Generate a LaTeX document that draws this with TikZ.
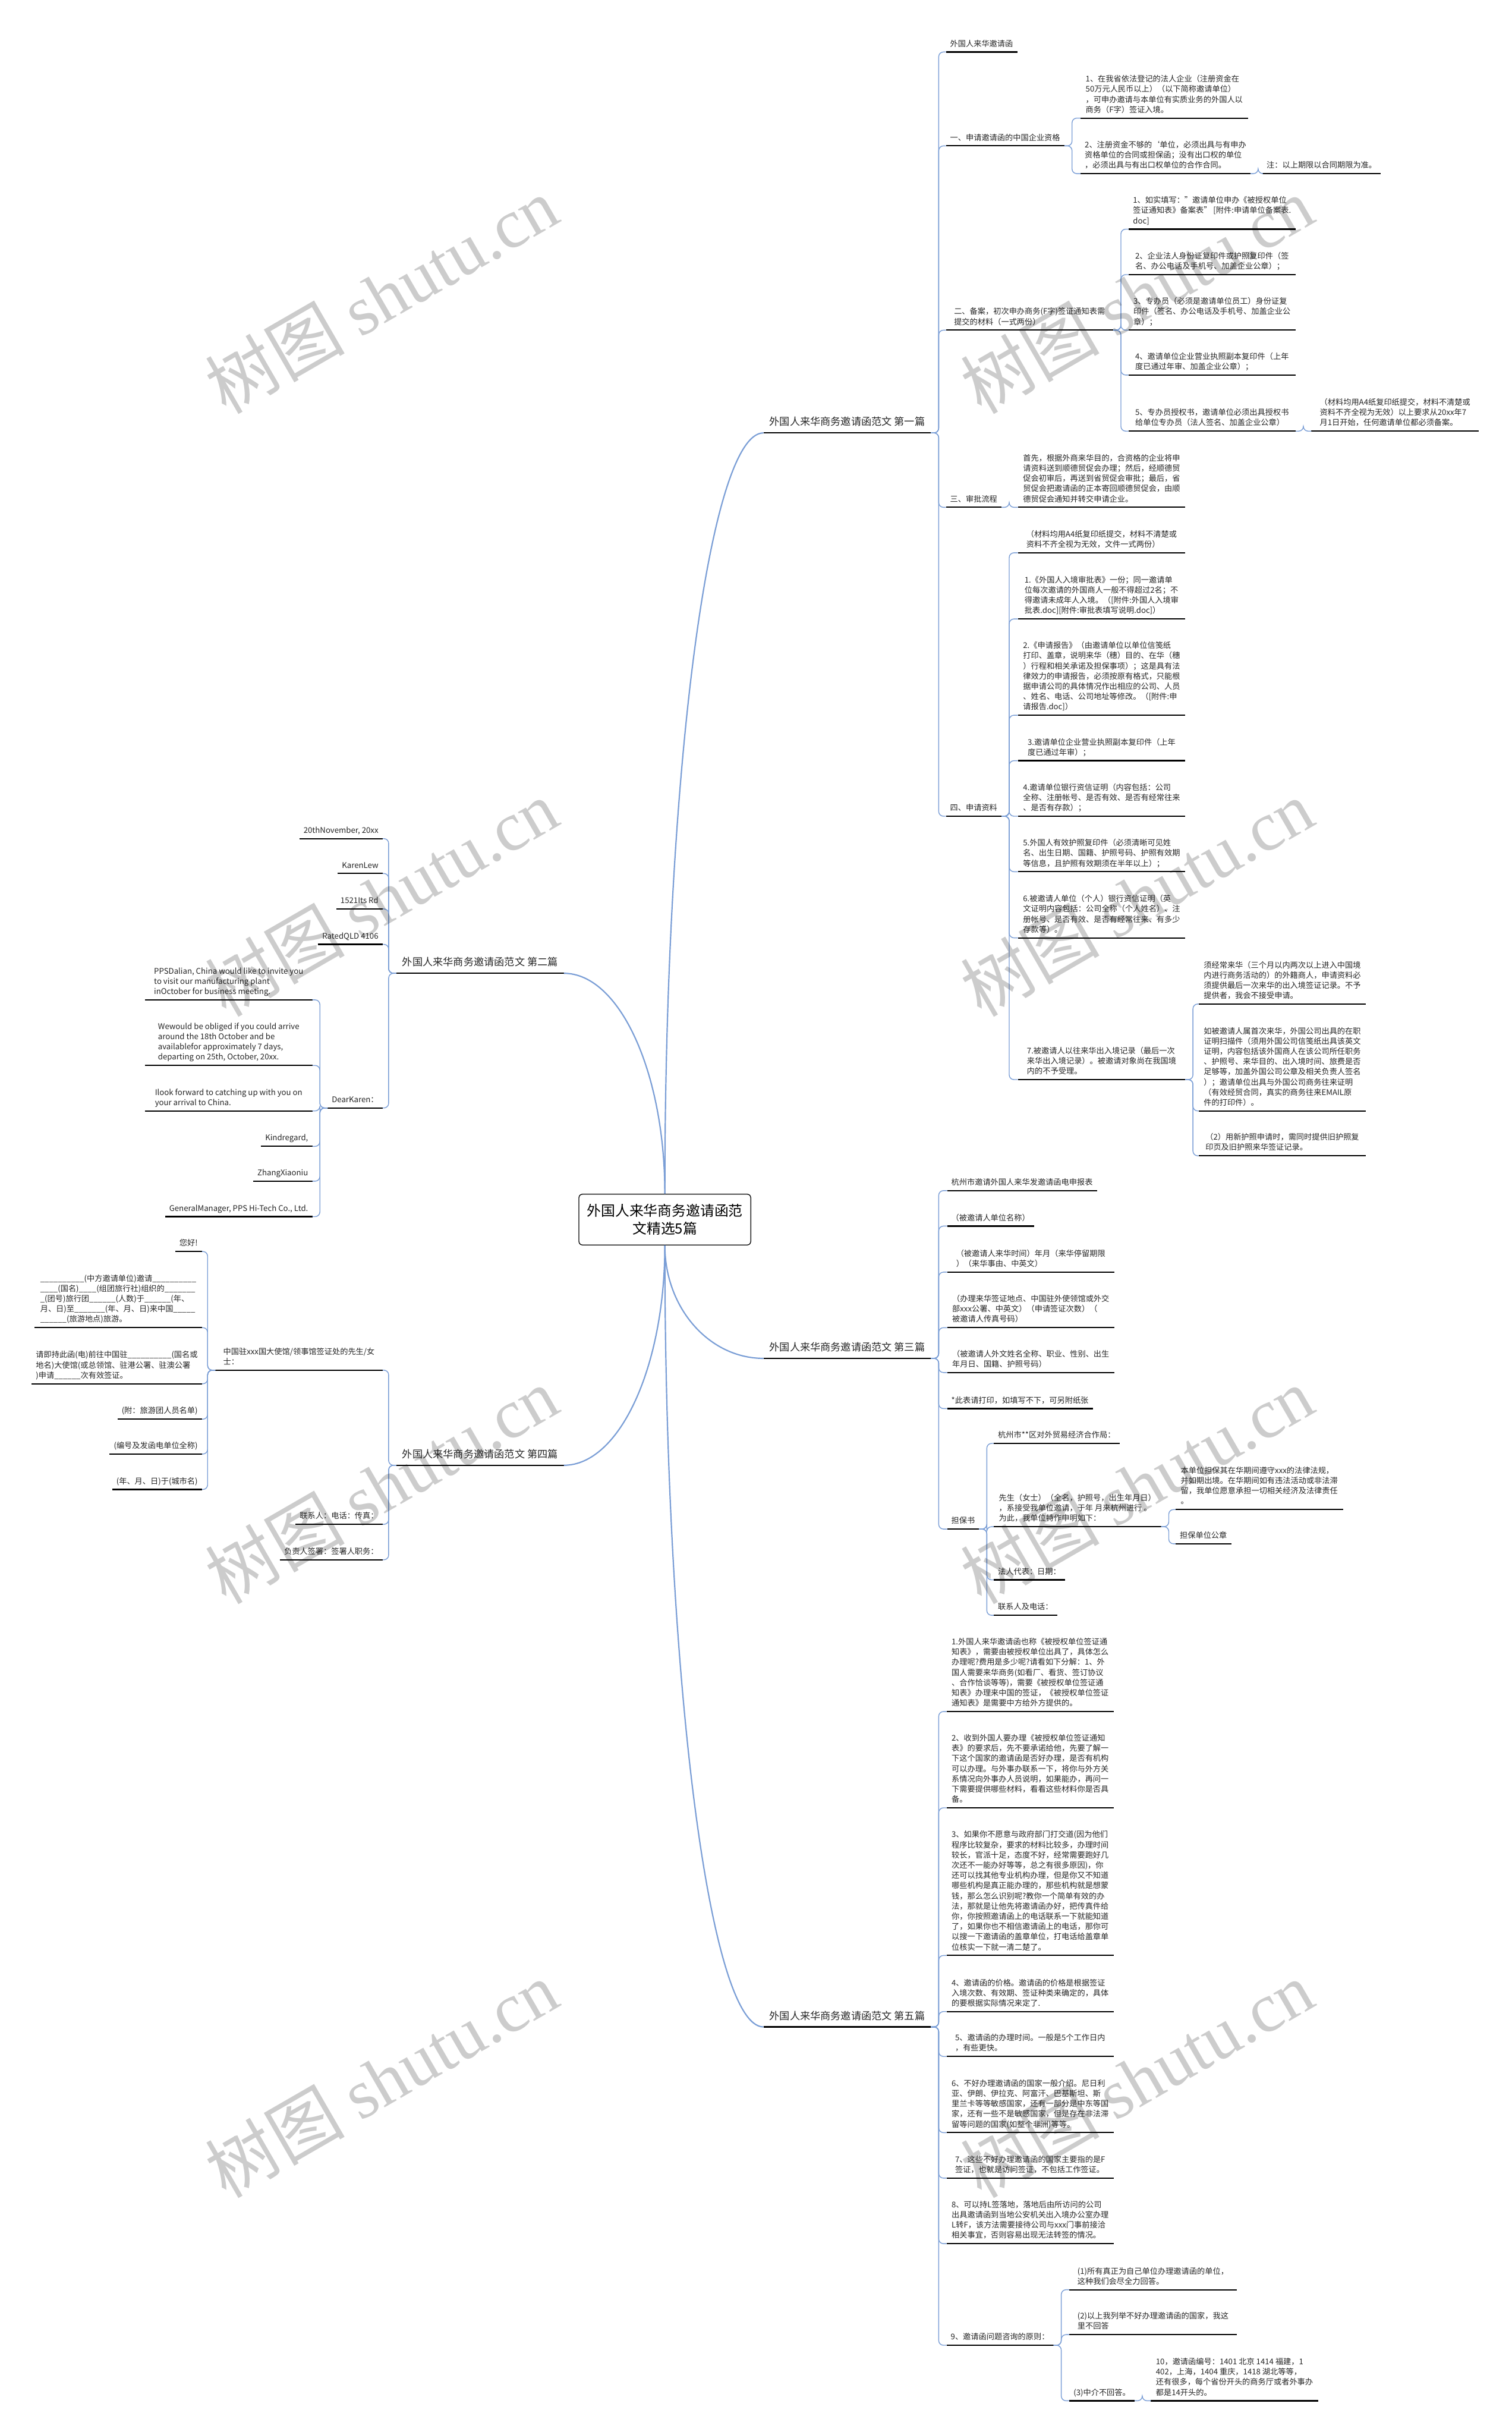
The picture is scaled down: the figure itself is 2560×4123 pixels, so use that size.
\documentclass[tikz,border=0pt]{standalone}
\usepackage{fontspec}
\setmainfont{Noto Sans CJK SC}
\newfontfamily\wmlatin{Liberation Serif}
\usepackage{xcolor}
\usepackage{tikz}
\usetikzlibrary{positioning,calc}
\definecolor{linkblue}{RGB}{122,158,214}
\definecolor{inkgray}{RGB}{38,38,38}
\newcommand{\leaffont}{\fontsize{13.3}{17.3}\selectfont}
\newcommand{\branchfont}{\fontsize{17.3}{22}\selectfont}
\newcommand{\rootfont}{\fontsize{24}{30}\selectfont}
\newcommand{\markfont}{\fontsize{118}{130}\selectfont}
\tikzset{
  uline/.style={line width=2.2pt, black},
  leafbox/.style={anchor=south west, inner xsep=7pt, inner ysep=4pt, align=left,
    font=\leaffont, text=inkgray, execute at end node=\strut,
    append after command={(\tikzlastnode.south west) edge[uline] (\tikzlastnode.south east)}},
  leafboxl/.style={leafbox, anchor=south east, align=right},
  parabox/.style={leafbox, minimum width=283pt},
  paraboxl/.style={parabox, anchor=south east, align=left},
  branchbox/.style={anchor=south west, inner xsep=10pt, inner ysep=5.8pt,
    font=\branchfont, text=inkgray, execute at end node=\strut,
    append after command={(\tikzlastnode.south west) edge[uline] (\tikzlastnode.south east)}},
  branchboxl/.style={branchbox, anchor=south east},
  rootbox/.style={draw=black, line width=1.3pt, rounded corners=6pt, fill=white,
    align=center, font=\rootfont, minimum width=291pt, minimum height=86pt},
  link/.style={linkblue, line width=1.4pt, rounded corners=8pt},
  rlink/.style={link, to path={-- ++(13,0) |- (\tikztotarget)}},
  llink/.style={link, to path={-- ++(-13,0) |- (\tikztotarget)}},
  trunk/.style={linkblue, line width=2.2pt},
  wmark/.style={rotate=30, text=black, text opacity=0.2, font=\markfont}
}

\begin{document}
\begin{tikzpicture}[x=1pt, y=-1pt]
\useasboundingbox (0,0) rectangle (2560,4123);
\fill[white] (0,0) rectangle (2560,4123);

% root and the five branches
\node[rootbox] (root) at (1126,2065) {外国人来华商务邀请函范\\文精选5篇};
\node[branchbox] (b1) at (1293,733) {外国人来华商务邀请函范文 第一篇};
\node[branchboxl] (b2) at (955,1648) {外国人来华商务邀请函范文 第二篇};
\node[branchbox] (b3) at (1293,2300) {外国人来华商务邀请函范文 第三篇};
\node[branchboxl] (b4) at (955,2481) {外国人来华商务邀请函范文 第四篇};
\node[branchbox] (b5) at (1293,3432) {外国人来华商务邀请函范文 第五篇};

% first
\node[leafbox] (b1a) at (1602,88) {外国人来华邀请函};
\node[leafbox] (b1b) at (1602,247) {一、申请邀请函的中国企业资格};
\node[parabox] (b1b1) at (1830,200) {1、在我省依法登记的法人企业（注册资金在\\50万元人民币以上）（以下简称邀请单位）\\，可申办邀请与本单位有实质业务的外国人以\\商务（F字）签证入境。};
\node[parabox] (b1b2) at (1830,294) {2、注册资金不够的`单位，必须出具与有申办\\资格单位的合同或担保函；没有出口权的单位\\，必须出具与有出口权单位的合作合同。};
\node[leafbox] (b1b2a) at (2138,294) {注：以上期限以合同期限为准。};
\node[parabox] (b1c) at (1602,559) {二、备案，初次申办商务(F字)签证通知表需\\提交的材料（一式两份）};
\node[parabox] (b1c1) at (1911,388) {1、如实填写："邀请单位申办《被授权单位\\签证通知表》备案表" [附件:申请单位备案表.\\doc]};
\node[parabox] (b1c2) at (1911,465) {2、企业法人身份证复印件或护照复印件（签\\名、办公电话及手机号、加盖企业公章）；};
\node[parabox] (b1c3) at (1911,559) {3、专办员（必须是邀请单位员工）身份证复\\印件（签名、办公电话及手机号、加盖企业公\\章）；};
\node[parabox] (b1c4) at (1911,635) {4、邀请单位企业营业执照副本复印件（上年\\度已通过年审、加盖企业公章）；};
\node[parabox] (b1c5) at (1911,730) {5、专办员授权书，邀请单位必须出具授权书\\给单位专办员（法人签名、加盖企业公章）};
\node[parabox] (b1c5a) at (2221,730) {（材料均用A4纸复印纸提交，材料不清楚或\\资料不齐全视为无效）以上要求从20xx年7\\月1日开始，任何邀请单位都必须备案。};
\node[leafbox] (b1d) at (1602,859) {三、审批流程};
\node[parabox] (b1d1) at (1724,859) {首先，根据外商来华目的，合资格的企业将申\\请资料送到顺德贸促会办理；然后，经顺德贸\\促会初审后，再送到省贸促会审批；最后，省\\贸促会把邀请函的正本寄回顺德贸促会，由顺\\德贸促会通知并转交申请企业。};
\node[leafbox] (b1e) at (1602,1382) {四、申请资料};
\node[parabox] (b1e0) at (1724,936) {（材料均用A4纸复印纸提交，材料不清楚或\\资料不齐全视为无效，文件一式两份）};
\node[parabox] (b1e1) at (1724,1048) {1.《外国人入境审批表》一份；同一邀请单\\位每次邀请的外国商人一般不得超过2名；不\\得邀请未成年人入境。（[附件:外国人入境审\\批表.doc][附件:审批表填写说明.doc]）};
\node[parabox] (b1e2) at (1724,1211) {2.《申请报告》（由邀请单位以单位信笺纸\\打印、盖章，说明来华（穗）目的、在华（穗\\）行程和相关承诺及担保事项）；这是具有法\\律效力的申请报告，必须按原有格式，只能根\\据申请公司的具体情况作出相应的公司、人员\\、姓名、电话、公司地址等修改。（[附件:申\\请报告.doc]）};
\node[parabox] (b1e3) at (1724,1288) {3.邀请单位企业营业执照副本复印件（上年\\度已通过年审）；};
\node[parabox] (b1e4) at (1724,1382) {4.邀请单位银行资信证明（内容包括：公司\\全称、注册帐号、是否有效、是否有经常往来\\、是否有存款）；};
\node[parabox] (b1e5) at (1724,1476) {5.外国人有效护照复印件（必须清晰可见姓\\名、出生日期、国籍、护照号码、护照有效期\\等信息，且护照有效期须在半年以上）；};
\node[parabox] (b1e6) at (1724,1588) {6.被邀请人单位（个人）银行资信证明（英\\文证明内容包括：公司全称（个人姓名）、注\\册帐号、是否有效、是否有经常往来、有多少\\存款等）。};
\node[parabox] (b1e7) at (1724,1828) {7.被邀请人以往来华出入境记录（最后一次\\来华出入境记录）。被邀请对象尚在我国境\\内的不予受理。};
\node[parabox] (b1e7a) at (2030,1700) {须经常来华（三个月以内两次以上进入中国境\\内进行商务活动的）的外籍商人，申请资料必\\须提供最后一次来华的出入境签证记录。不予\\提供者，我会不接受申请。};
\node[parabox] (b1e7b) at (2030,1881) {如被邀请人属首次来华，外国公司出具的在职\\证明扫描件（须用外国公司信笺纸出具该英文\\证明，内容包括该外国商人在该公司所任职务\\、护照号、来华目的、出入境时间、旅费是否\\足够等，加盖外国公司公章及相关负责人签名\\）；邀请单位出具与外国公司商务往来证明\\（有效经贸合同，真实的商务往来EMAIL原\\件的打印件）。};
\node[parabox] (b1e7c) at (2030,1957) {（2）用新护照申请时，需同时提供旧护照复\\印页及旧护照来华签证记录。};

% second
\node[leafboxl] (b2a) at (648,1420) {20thNovember, 20xx};
\node[leafboxl] (b2b) at (648,1479) {KarenLew};
\node[leafboxl] (b2c) at (648,1539) {1521Its Rd};
\node[leafboxl] (b2d) at (648,1599) {RatedQLD 4106};
\node[leafboxl] (b2e) at (648,1876) {DearKaren：};
\node[paraboxl] (b2e1) at (529,1693) {PPSDalian, China would like to invite you\\to visit our manufacturing plant\\inOctober for business meeting.};
\node[paraboxl] (b2e2) at (529,1804) {Wewould be obliged if you could arrive\\around the 18th October and be\\availablefor approximately 7 days,\\departing on 25th, October, 20xx.};
\node[paraboxl] (b2e3) at (529,1881) {Ilook forward to catching up with you on\\your arrival to China.};
\node[leafboxl] (b2e4) at (529,1941) {Kindregard,};
\node[leafboxl] (b2e5) at (529,2000) {ZhangXiaoniu};
\node[leafboxl] (b2e6) at (529,2060) {GeneralManager, PPS Hi-Tech Co., Ltd.};

% third
\node[leafbox] (b3a) at (1604,2016) {杭州市邀请外国人来华发邀请函电申报表};
\node[leafbox] (b3b) at (1604,2076) {（被邀请人单位名称）};
\node[parabox] (b3c) at (1604,2154) {（被邀请人来华时间）年月（来华停留期限\\）（来华事由、中英文）};
\node[parabox] (b3d) at (1604,2248) {（办理来华签证地点、中国驻外使领馆或外交\\部xxx公署、中英文）（申请签证次数）（\\被邀请人传真号码）};
\node[parabox] (b3e) at (1604,2324) {（被邀请人外文姓名全称、职业、性别、出生\\年月日、国籍、护照号码）};
\node[leafbox] (b3f) at (1604,2385) {*此表请打印，如填写不下，可另附纸张};
\node[leafbox] (b3g) at (1604,2589) {担保书};
\node[leafbox] (b3g1) at (1683,2444) {杭州市**区对外贸易经济合作局：};
\node[parabox] (b3g2) at (1683,2585) {先生（女士）（全名，护照号，出生年月日）\\，系接受我单位邀请，于年 月来杭州进行 。\\为此，我单位特作申明如下：};
\node[parabox] (b3g2a) at (1991,2556) {本单位担保其在华期间遵守xxx的法律法规，\\并如期出境。在华期间如有违法活动或非法滞\\留，我单位愿意承担一切相关经济及法律责任\\。};
\node[leafbox] (b3g2b) at (1991,2614) {担保单位公章};
\node[leafbox] (b3g3) at (1683,2675) {法人代表：日期：};
\node[leafbox] (b3g4) at (1683,2735) {联系人及电话：};

% fourth
\node[paraboxl] (b4a) at (648,2320) {中国驻xxx国大使馆/领事馆签证处的先生/女\\士：};
\node[leafboxl] (b4a1) at (342,2119) {您好!};
\node[paraboxl] (b4a2) at (342,2248) {\_\_\_\_\_\_\_\_\_\_(中方邀请单位)邀请\_\_\_\_\_\_\_\_\_\_\\\_\_\_\_(国名)\_\_\_\_(组团旅行社)组织的\_\_\_\_\_\_\_\\\_(团号)旅行团\_\_\_\_\_\_(人数)于\_\_\_\_\_\_(年、\\月、日)至\_\_\_\_\_\_\_(年、月、日)来中国\_\_\_\_\_\\\_\_\_\_\_\_(旅游地点)旅游。};
\node[paraboxl] (b4a3) at (342,2343) {请即持此函(电)前往中国驻\_\_\_\_\_\_\_\_\_\_(国名或\\地名)大使馆(或总领馆、驻港公署、驻澳公署\\)申请\_\_\_\_\_\_次有效签证。};
\node[leafboxl] (b4a4) at (342,2403) {(附：旅游团人员名单)};
\node[leafboxl] (b4a5) at (342,2462) {(编号及发函电单位全称)};
\node[leafboxl] (b4a6) at (342,2522) {(年、月、日)于(城市名)};
\node[leafboxl] (b4b) at (648,2581) {联系人：电话：传真：};
\node[leafboxl] (b4c) at (648,2641) {负责人签署：签署人职务：};

% fifth
\node[parabox] (b5a) at (1603,2898) {1.外国人来华邀请函也称《被授权单位签证通\\知表》，需要由被授权单位出具了，具体怎么\\办理呢?费用是多少呢?请看如下分解：1、外\\国人需要来华商务(如看厂、看货、签订协议\\、合作恰谈等等)，需要《被授权单位签证通\\知表》办理来中国的签证，《被授权单位签证\\通知表》是需要中方给外方提供的。};
\node[parabox] (b5b) at (1603,3061) {2、收到外国人要办理《被授权单位签证通知\\表》的要求后，先不要承诺给他，先要了解一\\下这个国家的邀请函是否好办理，是否有机构\\可以办理。与外事办联系一下，将你与外方关\\系情况向外事办人员说明，如果能办，再问一\\下需要提供哪些材料，看看这些材料你是否具\\备。};
\node[parabox] (b5c) at (1603,3311) {3、如果你不愿意与政府部门打交道(因为他们\\程序比较复杂，要求的材料比较多，办理时间\\较长，官派十足，态度不好，经常需要跑好几\\次还不一能办好等等，总之有很多原因)，你\\还可以找其他专业机构办理，但是你又不知道\\哪些机构是真正能办理的，那些机构就是想蒙\\钱，那么怎么识别呢?教你一个简单有效的办\\法，那就是让他先将邀请函办好，把传真件给\\你，你按照邀请函上的电话联系一下就能知道\\了，如果你也不相信邀请函上的电话，那你可\\以搜一下邀请函的盖章单位，打电话给盖章单\\位核实一下就一清二楚了。};
\node[parabox] (b5d) at (1603,3406) {4、邀请函的价格。邀请函的价格是根据签证\\入境次数、有效期、签证种类来确定的，具体\\的要根据实际情况来定了.};
\node[parabox] (b5e) at (1603,3482) {5、邀请函的办理时间。一般是5个工作日内\\，有些更快。};
\node[parabox] (b5f) at (1603,3611) {6、不好办理邀请函的国家一般介绍。尼日利\\亚、伊朗、伊拉克、阿富汗、巴基斯坦、斯\\里兰卡等等敏感国家，还有一部分是中东等国\\家，还有一些不是敏感国家，但是存在非法滞\\留等问题的国家(如整个非洲)等等。};
\node[parabox] (b5g) at (1603,3688) {7、这些不好办理邀请函的国家主要指的是F\\签证，也就是访问签证，不包括工作签证。};
\node[parabox] (b5h) at (1603,3799) {8、可以持L签落地，落地后由所访问的公司\\出具邀请函到当地公安机关出入境办公室办理\\L转F，该方法需要接待公司与xxx门事前接洽\\相关事宜，否则容易出现无法转签的情况。};
\node[leafbox] (b5i) at (1603,3971) {9、邀请函问题咨询的原则：};
\node[parabox] (b5i1) at (1811,3877) {(1)所有真正为自己单位办理邀请函的单位，\\这种我们会尽全力回答。};
\node[parabox] (b5i2) at (1811,3953) {(2)以上我列举不好办理邀请函的国家，我这\\里不回答};
\node[leafbox] (b5i3) at (1811,4065) {(3)中介不回答。};
\node[parabox] (b5i3a) at (1949,4065) {10，邀请函编号：1401 北京 1414 福建，1\\402，上海，1404 重庆，1418 湖北等等，\\还有很多，每个省份开头的商务厅或者外事办\\都是14开头的。};

% trunks
\draw[trunk] (root.north) .. controls +(0,-712) and +(-92,0) .. (b1.south west);
\draw[trunk] (root.north) .. controls +(0,-206) and +(94,0) .. (b2.south east);
\draw[trunk] (root.south) .. controls +(0,106) and +(-92,0) .. (b3.south west);
\draw[trunk] (root.south) .. controls +(0,206) and +(94,0) .. (b4.south east);
\draw[trunk] (root.south) .. controls +(0,731) and +(-92,0) .. (b5.south west);

% links
\draw[rlink] (b1.south east) to (b1a.south west);
\draw[rlink] (b1.south east) to (b1b.south west);
\draw[rlink] (b1.south east) to (b1c.south west);
\draw[rlink] (b1.south east) to (b1d.south west);
\draw[rlink] (b1.south east) to (b1e.south west);
\draw[rlink] (b1b.south east) to (b1b1.south west);
\draw[rlink] (b1b.south east) to (b1b2.south west);
\draw[rlink] (b1b2.south east) to (b1b2a.south west);
\draw[rlink] (b1c.south east) to (b1c1.south west);
\draw[rlink] (b1c.south east) to (b1c2.south west);
\draw[rlink] (b1c.south east) to (b1c3.south west);
\draw[rlink] (b1c.south east) to (b1c4.south west);
\draw[rlink] (b1c.south east) to (b1c5.south west);
\draw[rlink] (b1c5.south east) to (b1c5a.south west);
\draw[rlink] (b1d.south east) to (b1d1.south west);
\draw[rlink] (b1e.south east) to (b1e0.south west);
\draw[rlink] (b1e.south east) to (b1e1.south west);
\draw[rlink] (b1e.south east) to (b1e2.south west);
\draw[rlink] (b1e.south east) to (b1e3.south west);
\draw[rlink] (b1e.south east) to (b1e4.south west);
\draw[rlink] (b1e.south east) to (b1e5.south west);
\draw[rlink] (b1e.south east) to (b1e6.south west);
\draw[rlink] (b1e.south east) to (b1e7.south west);
\draw[rlink] (b1e7.south east) to (b1e7a.south west);
\draw[rlink] (b1e7.south east) to (b1e7b.south west);
\draw[rlink] (b1e7.south east) to (b1e7c.south west);

\draw[llink] (b2.south west) to (b2a.south east);
\draw[llink] (b2.south west) to (b2b.south east);
\draw[llink] (b2.south west) to (b2c.south east);
\draw[llink] (b2.south west) to (b2d.south east);
\draw[llink] (b2.south west) to (b2e.south east);
\draw[llink] (b2e.south west) to (b2e1.south east);
\draw[llink] (b2e.south west) to (b2e2.south east);
\draw[llink] (b2e.south west) to (b2e3.south east);
\draw[llink] (b2e.south west) to (b2e4.south east);
\draw[llink] (b2e.south west) to (b2e5.south east);
\draw[llink] (b2e.south west) to (b2e6.south east);

\draw[rlink] (b3.south east) to (b3a.south west);
\draw[rlink] (b3.south east) to (b3b.south west);
\draw[rlink] (b3.south east) to (b3c.south west);
\draw[rlink] (b3.south east) to (b3d.south west);
\draw[rlink] (b3.south east) to (b3e.south west);
\draw[rlink] (b3.south east) to (b3f.south west);
\draw[rlink] (b3.south east) to (b3g.south west);
\draw[rlink] (b3g.south east) to (b3g1.south west);
\draw[rlink] (b3g.south east) to (b3g2.south west);
\draw[rlink] (b3g.south east) to (b3g3.south west);
\draw[rlink] (b3g.south east) to (b3g4.south west);
\draw[rlink] (b3g2.south east) to (b3g2a.south west);
\draw[rlink] (b3g2.south east) to (b3g2b.south west);

\draw[llink] (b4.south west) to (b4a.south east);
\draw[llink] (b4.south west) to (b4b.south east);
\draw[llink] (b4.south west) to (b4c.south east);
\draw[llink] (b4a.south west) to (b4a1.south east);
\draw[llink] (b4a.south west) to (b4a2.south east);
\draw[llink] (b4a.south west) to (b4a3.south east);
\draw[llink] (b4a.south west) to (b4a4.south east);
\draw[llink] (b4a.south west) to (b4a5.south east);
\draw[llink] (b4a.south west) to (b4a6.south east);

\draw[rlink] (b5.south east) to (b5a.south west);
\draw[rlink] (b5.south east) to (b5b.south west);
\draw[rlink] (b5.south east) to (b5c.south west);
\draw[rlink] (b5.south east) to (b5d.south west);
\draw[rlink] (b5.south east) to (b5e.south west);
\draw[rlink] (b5.south east) to (b5f.south west);
\draw[rlink] (b5.south east) to (b5g.south west);
\draw[rlink] (b5.south east) to (b5h.south west);
\draw[rlink] (b5.south east) to (b5i.south west);
\draw[rlink] (b5i.south east) to (b5i1.south west);
\draw[rlink] (b5i.south east) to (b5i2.south west);
\draw[rlink] (b5i.south east) to (b5i3.south west);
\draw[rlink] (b5i3.south east) to (b5i3a.south west);

% watermark
\node[wmark] (wm1) at (646,500) {树图 {\wmlatin shutu.cn}};
\node[wmark] (wm2) at (1925,500) {树图 {\wmlatin shutu.cn}};
\node[wmark] (wm3) at (646,1520) {树图 {\wmlatin shutu.cn}};
\node[wmark] (wm4) at (1925,1520) {树图 {\wmlatin shutu.cn}};
\node[wmark] (wm5) at (646,2515) {树图 {\wmlatin shutu.cn}};
\node[wmark] (wm6) at (1925,2515) {树图 {\wmlatin shutu.cn}};
\node[wmark] (wm7) at (646,3520) {树图 {\wmlatin shutu.cn}};
\node[wmark] (wm8) at (1925,3520) {树图 {\wmlatin shutu.cn}};
\end{tikzpicture}
\end{document}
